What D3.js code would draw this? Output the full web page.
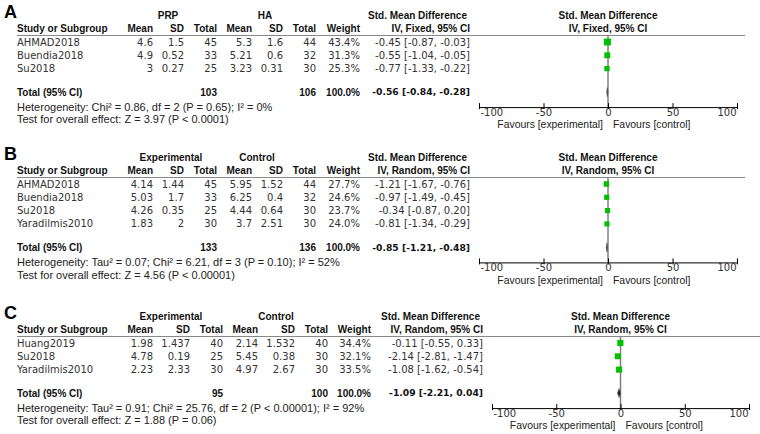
<!DOCTYPE html>
<html>
<head>
<meta charset="utf-8">
<script src="https://d3js.org/d3.v7.min.js"></script>
<style>
  body { margin: 0; background: #fff; }
  text { font-family: "DejaVu Sans", Verdana, sans-serif; font-size: 10px; fill: #333; }
  .hd { font-family: "Liberation Sans", Arial, sans-serif; font-weight: bold; fill: #111; }
  .hdn { font-family: "DejaVu Sans", Verdana, sans-serif; font-weight: bold; font-size: 9.2px; fill: #111; }
  .note { font-family: "Liberation Sans", Arial, sans-serif; font-size: 11px; fill: #222; }
  .fav { font-family: "Liberation Sans", Arial, sans-serif; font-size: 10.4px; fill: #222; }
  .lab { font-family: "Liberation Sans", Arial, sans-serif; font-weight: bold; font-size: 18px; fill: #000; }
</style>
</head>
<body>
<script>
// ---- panel A : PRP vs HA, fixed
const studiesA = ["AHMAD2018", "Buendia2018", "Su2018"];
const eMeanA = ["4.6", "4.9", "3"], eSdA = ["1.5", "0.52", "0.27"], eNA = [45, 33, 25];
const cMeanA = ["5.3", "5.21", "3.23"], cSdA = ["1.6", "0.6", "0.31"], cNA = [44, 32, 30];
const weightA = [43.4, 31.3, 25.3];
const smdA = [-0.45, -0.55, -0.77], loA = [-0.87, -1.04, -1.33], hiA = [-0.03, -0.05, -0.22];
const totalA = { e: 103, c: 106, smd: -0.56, lo: -0.84, hi: -0.28 };
const hetA = "Heterogeneity: Chi² = 0.86, df = 2 (P = 0.65); I² = 0%";
const testA = "Test for overall effect: Z = 3.97 (P < 0.0001)";

// ---- panel B : random
const studiesB = ["AHMAD2018", "Buendia2018", "Su2018", "Yaradilmis2010"];
const eMeanB = ["4.14", "5.03", "4.26", "1.83"], eSdB = ["1.44", "1.7", "0.35", "2"], eNB = [45, 33, 25, 30];
const cMeanB = ["5.95", "6.25", "4.44", "3.7"], cSdB = ["1.52", "0.4", "0.64", "2.51"], cNB = [44, 32, 30, 30];
const weightB = [27.7, 24.6, 23.7, 24.0];
const smdB = [-1.21, -0.97, -0.34, -0.81], loB = [-1.67, -1.49, -0.87, -1.34], hiB = [-0.76, -0.45, 0.20, -0.29];
const totalB = { e: 133, c: 136, smd: -0.85, lo: -1.21, hi: -0.48 };
const hetB = "Heterogeneity: Tau² = 0.07; Chi² = 6.21, df = 3 (P = 0.10); I² = 52%";
const testB = "Test for overall effect: Z = 4.56 (P < 0.00001)";

// ---- panel C : random
const studiesC = ["Huang2019", "Su2018", "Yaradilmis2010"];
const eMeanC = ["1.98", "4.78", "2.23"], eSdC = ["1.437", "0.19", "2.33"], eNC = [40, 25, 30];
const cMeanC = ["2.14", "5.45", "4.97"], cSdC = ["1.532", "0.38", "2.67"], cNC = [40, 30, 30];
const weightC = [34.4, 32.1, 33.5];
const smdC = [-0.11, -2.14, -1.08], loC = [-0.55, -2.81, -1.62], hiC = [0.33, -1.47, -0.54];
const totalC = { e: 95, c: 100, smd: -1.09, lo: -2.21, hi: 0.04 };
const hetC = "Heterogeneity: Tau² = 0.91; Chi² = 25.76, df = 2 (P < 0.00001); I² = 92%";
const testC = "Test for overall effect: Z = 1.88 (P = 0.06)";

const axisTicks = [-100, -50, 0, 50, 100];

const svg = d3.select("body").append("svg").attr("width", 760).attr("height", 434);

const fmt = v => d3.format(".2f")(v).replace("−", "-");
const ci = (m, l, h) => fmt(m) + " [" + fmt(l) + ", " + fmt(h) + "]";

function panel(p) {
  const g = svg.append("g").attr("transform", "translate(0," + p.top + ")");
  const n = p.studies.length;
  const rowY = i => 42 + 13.3 * i;
  const totY = rowY(n - 1) + 23.5;
  const axY = totY + 15;
  const cx = p.cols; // right edges: mean sd total mean sd total weight smd
  const x = d3.scaleLinear().domain([-100, 100]).range(p.range);

  g.append("text").attr("class", "lab").attr("x", 4).attr("y", 18).text(p.label);

  // headers
  const h1 = 15, h2 = 28.5;
  g.append("text").attr("class", "hd").attr("x", p.g1).attr("y", h1).attr("dy", "0.35em").attr("text-anchor", "middle").text(p.grp[0]);
  g.append("text").attr("class", "hd").attr("x", p.g2).attr("y", h1).attr("dy", "0.35em").attr("text-anchor", "middle").text(p.grp[1]);
  g.append("text").attr("class", "hd").attr("x", 17).attr("y", h2).attr("dy", "0.35em").text("Study or Subgroup");
  const heads = ["Mean", "SD", "Total", "Mean", "SD", "Total", "Weight"];
  heads.forEach((t, i) => g.append("text").attr("class", "hd").attr("x", cx[i]).attr("y", h2)
    .attr("dy", "0.35em").attr("text-anchor", "end").text(t));
  g.append("text").attr("class", "hd").attr("x", cx[7] - 3).attr("y", h1).attr("dy", "0.35em").attr("text-anchor", "end").text("Std. Mean Difference");
  g.append("text").attr("class", "hd").attr("x", cx[7]).attr("y", h2).attr("dy", "0.35em").attr("text-anchor", "end").text(p.method);
  g.append("text").attr("class", "hd").attr("x", x(0)).attr("y", h1).attr("dy", "0.35em").attr("text-anchor", "middle").text("Std. Mean Difference");
  g.append("text").attr("class", "hd").attr("x", x(0)).attr("y", h2).attr("dy", "0.35em").attr("text-anchor", "middle").text(p.method);

  g.append("line").attr("x1", 17).attr("x2", p.lineEnd).attr("y1", 35.5).attr("y2", 35.5)
    .attr("stroke", "#888").attr("stroke-width", 1.2);

  // study rows
  p.studies.forEach((s, i) => {
    const y = rowY(i);
    const cells = [p.eMean[i], p.eSd[i], p.eN[i], p.cMean[i], p.cSd[i], p.cN[i],
      p.w[i].toFixed(1) + "%", ci(p.smd[i], p.lo[i], p.hi[i])];
    g.append("text").attr("x", 17).attr("y", y).attr("dy", "0.35em").text(s);
    cells.forEach((c, j) => g.append("text").attr("x", cx[j]).attr("y", y).attr("dy", "0.35em")
      .attr("text-anchor", "end").text(c));
  });

  // total row
  g.append("text").attr("class", "hd").attr("x", 17).attr("y", totY).attr("dy", "0.35em").text("Total (95% CI)");
  [[p.total.e, 2], [p.total.c, 5], ["100.0%", 6]].forEach(([t, j]) => g.append("text").attr("class", "hd")
    .attr("x", cx[j]).attr("y", totY).attr("dy", "0.35em").attr("text-anchor", "end").text(t));
  g.append("text").attr("class", "hdn").attr("x", cx[7]).attr("y", totY).attr("dy", "0.35em")
    .attr("text-anchor", "end").text(ci(p.total.smd, p.total.lo, p.total.hi));
  g.append("text").attr("class", "note").attr("x", 17).attr("y", totY + 15).attr("dy", "0.35em").text(p.het);
  g.append("text").attr("class", "note").attr("x", 17).attr("y", totY + 27.5).attr("dy", "0.35em").text(p.test);

  // forest plot
  g.append("line").attr("x1", x(0)).attr("x2", x(0)).attr("y1", 35.5).attr("y2", axY)
    .attr("stroke", "#808080").attr("stroke-width", 1.5);

  p.studies.forEach((s, i) => {
    const y = rowY(i), side = Math.sqrt(p.w[i]) * 1.05;
    g.append("line").attr("x1", x(p.lo[i])).attr("x2", x(p.hi[i])).attr("y1", y).attr("y2", y)
      .attr("stroke", "#000").attr("stroke-width", 1);
    g.append("rect").attr("x", x(p.smd[i]) - side / 2).attr("y", y - side / 2)
      .attr("width", side).attr("height", side).attr("fill", "#00c000");
  });

  const dx = Math.max(0.7, x(p.total.hi) - x(p.total.lo));
  const dl = x(p.total.smd) - dx / 2 - 0.2, dr = x(p.total.smd) + dx / 2 + 0.2;
  g.append("path")
    .attr("d", "M" + dl + "," + totY + "L" + x(p.total.smd) + "," + (totY - 4.5) + "L" + dr + "," + totY +
      "L" + x(p.total.smd) + "," + (totY + 4.5) + "Z")
    .attr("fill", "#222").attr("stroke", "#555").attr("stroke-width", 0.6);

  const ax = g.append("g").attr("transform", "translate(0," + axY + ")")
    .call(d3.axisBottom(x).tickValues(axisTicks).tickSizeOuter(0).tickSizeInner(2).tickPadding(0));
  ax.select(".domain").attr("stroke", "#000");
  ax.selectAll(".tick line").attr("y1", -4).attr("y2", 2).attr("stroke", "#000");
  ax.selectAll(".tick text").attr("font-family", "DejaVu Sans, sans-serif").attr("font-size", 10).attr("fill", "#333")
    .text(d => String(d).replace("−", "-"))
    .attr("text-anchor", d => d === -100 ? "start" : d === 100 ? "end" : "middle")
    .attr("dx", d => d === -100 ? 1 : d === 100 ? -1 : 0);

  g.append("text").attr("class", "fav").attr("x", x(0) - 5).attr("y", axY + 17.5).attr("dy", "0.35em")
    .attr("text-anchor", "end").text("Favours [experimental]");
  g.append("text").attr("class", "fav").attr("x", x(0) + 5).attr("y", axY + 17.5).attr("dy", "0.35em")
    .text("Favours [control]");
}

const colsAB = [153, 184, 217, 252, 283, 316, 360, 470];
const colsC = [153, 190, 223, 258, 295, 328, 371, 483];

panel({ top: 0, label: "A", grp: ["PRP", "HA"], g1: 168, g2: 265, method: "IV, Fixed, 95% CI",
  studies: studiesA, eMean: eMeanA, eSd: eSdA, eN: eNA, cMean: cMeanA, cSd: cSdA, cN: cNA,
  w: weightA, smd: smdA, lo: loA, hi: hiA, total: totalA, het: hetA, test: testA,
  cols: colsAB, range: [479, 737], lineEnd: 745 });

panel({ top: 142, label: "B", grp: ["Experimental", "Control"], g1: 171, g2: 257, method: "IV, Random, 95% CI",
  studies: studiesB, eMean: eMeanB, eSd: eSdB, eN: eNB, cMean: cMeanB, cSd: cSdB, cN: cNB,
  w: weightB, smd: smdB, lo: loB, hi: hiB, total: totalB, het: hetB, test: testB,
  cols: colsAB, range: [479, 737], lineEnd: 745 });

panel({ top: 301, label: "C", grp: ["Experimental", "Control"], g1: 171, g2: 276, method: "IV, Random, 95% CI",
  studies: studiesC, eMean: eMeanC, eSd: eSdC, eN: eNC, cMean: cMeanC, cSd: cSdC, cN: cNC,
  w: weightC, smd: smdC, lo: loC, hi: hiC, total: totalC, het: hetC, test: testC,
  cols: colsC, range: [492, 749], lineEnd: 760 });
</script>
</body>
</html>
